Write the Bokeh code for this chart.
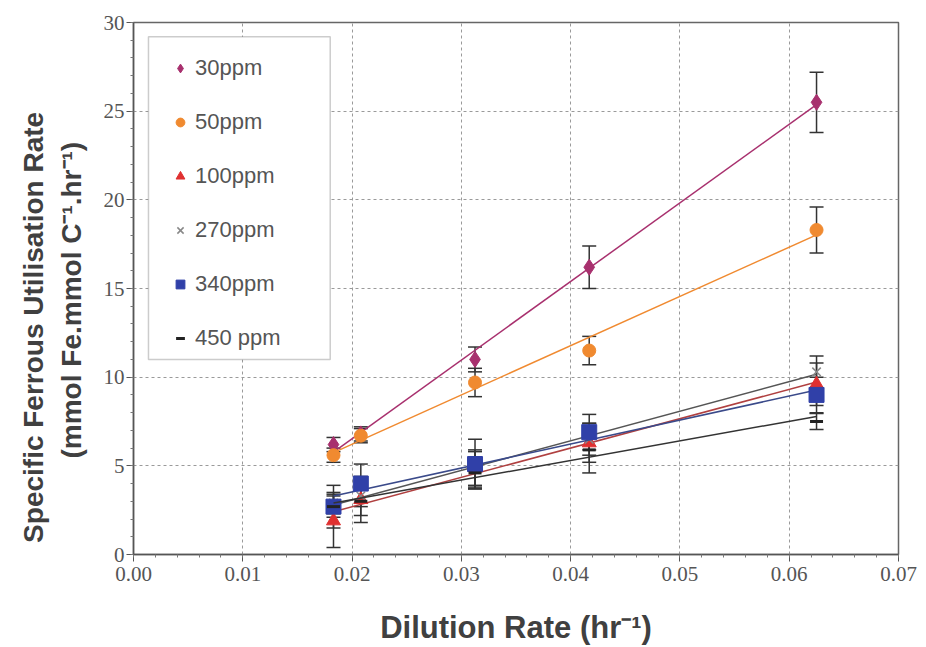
import numpy as np
from bokeh.plotting import figure
from bokeh.models import (ColumnDataSource, Whisker, TeeHead, Legend, LegendItem,
                          BoxAnnotation, FixedTicker, NumeralTickFormatter)
from bokeh.embed import file_html
from bokeh.resources import INLINE

# ---- data -----------------------------------------------------------
dilution = [0.0183, 0.0208, 0.03125, 0.0417, 0.0625]
series_names = ["30ppm", "50ppm", "100ppm", "270ppm", "340ppm", "450 ppm"]
y_30 = [6.2, 6.8, 11.0, 16.2, 25.5]
e_30 = [0.4, 0.4, 0.7, 1.2, 1.7]
y_50 = [5.6, 6.7, 9.7, 11.5, 18.3]
e_50 = [0.4, 0.4, 0.8, 0.8, 1.3]
y_100 = [1.9, 3.1, 4.9, 6.3, 9.6]
e_100 = [1.5, 1.3, 1.0, 1.1, 1.2]
y_270 = [2.9, 3.3, 4.8, 6.5, 10.3]
e_270 = [0.6, 0.6, 1.0, 0.9, 0.9]
y_340 = [2.7, 4.0, 5.1, 6.9, 9.0]
e_340 = [1.2, 1.1, 1.4, 1.0, 1.0]
y_450 = [2.7, 3.0, 4.6, 5.9, 7.5]
e_450 = [0.6, 0.8, 0.9, 1.3, 0.45]
x_ticks = [0.0, 0.01, 0.02, 0.03, 0.04, 0.05, 0.06, 0.07]
y_ticks = [0, 5, 10, 15, 20, 25, 30]

values = [y_30, y_50, y_100, y_270, y_340, y_450]
errors = [e_30, e_50, e_100, e_270, e_340, e_450]
styles = [
    dict(marker="diamond", size=16, fill_color="#a8306e", line_color="#a8306e", line_width=1),
    dict(marker="circle", size=13, fill_color="#f08a30", line_color="#f08a30", line_width=1),
    dict(marker="triangle", size=14, fill_color="#e03030", line_color="#e03030", line_width=1),
    dict(marker="x", size=12, fill_color=None, line_color="#888888", line_width=1.5),
    dict(marker="square", size=15, fill_color="#3040a8", line_color="#3040a8", line_width=1),
    dict(marker="dash", size=13, fill_color="#222222", line_color="#222222", line_width=3),
]
line_colors = ["#a8306e", "#f08a30", "#b04040", "#555555", "#3a4a8a", "#333333"]

p = figure(width=926, height=647, x_range=(0, 0.07), y_range=(0, 30),
           output_backend="svg", toolbar_location=None,
           min_border_left=133, min_border_right=28, min_border_top=22,
           min_border_bottom=92, background_fill_color="white",
           border_fill_color="white")

p.outline_line_color = "#666666"
p.outline_line_width = 1.5

# grid
for g in (p.xgrid, p.ygrid):
    g.grid_line_color = "#9a9a9a"
    g.grid_line_dash = "3 3"
    g.grid_line_width = 1

p.xaxis.ticker = FixedTicker(ticks=x_ticks, minor_ticks=list(np.round(np.arange(0, 0.0701, 0.002), 4)))
p.yaxis.ticker = FixedTicker(ticks=y_ticks, minor_ticks=list(range(0, 31)))
p.xaxis.formatter = NumeralTickFormatter(format="0.00")

for ax in (p.xaxis, p.yaxis):
    ax.axis_line_color = "#555555"
    ax.axis_line_width = 1.5
    ax.major_tick_line_color = "#555555"
    ax.minor_tick_line_color = "#777777"
    ax.major_tick_out = 7
    ax.major_tick_in = 0
    ax.minor_tick_out = 3
    ax.minor_tick_in = 0
    ax.major_label_text_font = "Liberation Sans Narrow"
    ax.major_label_text_font_size = "21px"
    ax.major_label_text_color = "#555555"
    ax.axis_label_text_font = "Liberation Sans"
    ax.axis_label_text_font_style = "bold"
    ax.axis_label_text_font_size = "28px"
    ax.axis_label_text_color = "#404040"

nb = "\u00a0"
p.xaxis.axis_label = "Dilution Rate (hr\u207b\u00b9)"
p.xaxis.axis_label_text_font_size = "31px"
p.xaxis.major_label_standoff = 5
p.xaxis.axis_label_standoff = 26
p.yaxis.axis_label = ("Specific Ferrous Utilisation Rate" + nb * 10 + "\n"
                      + "(mmol Fe.mmol C\u207b\u00b9.hr\u207b\u00b9)" + nb * 3)
p.yaxis.major_label_standoff = 2
p.yaxis.axis_label_standoff = 14

items = []
for name, ys, es, st, lc in zip(series_names, values, errors, styles, line_colors):
    upper = [a + b for a, b in zip(ys, es)]
    lower = [a - b for a, b in zip(ys, es)]
    src = ColumnDataSource(dict(x=dilution, y=ys, upper=upper, lower=lower))
    # best-fit line through the series
    slope, intercept = np.polyfit(dilution, ys, 1)
    fx = [dilution[0], dilution[-1]]
    fy = [slope * v + intercept for v in fx]
    p.line(fx, fy, line_color=lc, line_width=1.5)
    w = Whisker(source=src, base="x", upper="upper", lower="lower",
                line_color="#333333", line_width=1.5,
                upper_head=TeeHead(size=14, line_color="#333333", line_width=1.5),
                lower_head=TeeHead(size=14, line_color="#333333", line_width=1.5))
    p.add_layout(w)
    r = p.scatter("x", "y", source=src, **st)
    items.append(LegendItem(label=name, renderers=[r]))

# legend frame (drawn as a box in data units)
box = BoxAnnotation(left=0.00137, right=0.0180, top=29.2, bottom=11.0,
                    fill_color="white", fill_alpha=1.0,
                    line_color="#555555", line_width=1.5)
p.add_layout(box)

legend = Legend(items=items, location=(36, 203), orientation="vertical")
legend.border_line_color = None
legend.background_fill_alpha = 0
legend.label_text_font = "Liberation Sans"
legend.label_text_font_size = "22px"
legend.label_text_color = "#555555"
legend.glyph_width = 22
legend.glyph_height = 22
legend.label_height = 22
legend.spacing = 28
legend.padding = 14
legend.margin = 0
legend.label_standoff = 4
p.add_layout(legend)

open("out.html", "w").write(file_html(p, INLINE))
